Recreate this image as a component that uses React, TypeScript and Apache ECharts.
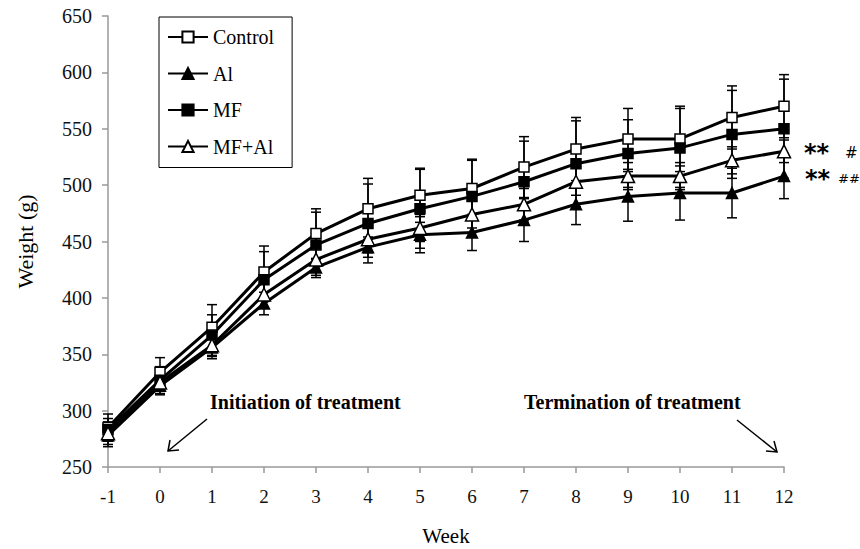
import React, { useEffect, useRef } from "react";
import * as echarts from "echarts";

const weeks = [-1, 0, 1, 2, 3, 4, 5, 6, 7, 8, 9, 10, 11, 12];
const seriesNames = ["Control", "Al", "MF", "MF+Al"];
const controlMean = [285, 334, 374, 423, 457, 479, 491, 497, 516, 532, 541, 541, 560, 570];
const alMean = [278, 322, 356, 395, 427, 445, 456, 458, 469, 483, 490, 493, 493, 508];
const mfMean = [283, 327, 367, 416, 447, 466, 479, 490, 503, 519, 528, 533, 545, 550];
const mfAlMean = [280, 325, 358, 403, 434, 452, 462, 474, 483, 503, 508, 508, 522, 530];
const controlSd = [12, 13, 20, 23, 22, 27, 24, 26, 27, 28, 27, 29, 28, 28];
const alSd = [10, 8, 10, 10, 7, 9, 16, 16, 19, 18, 22, 24, 22, 20];
const mfSd = [10, 12, 18, 25, 29, 35, 35, 32, 36, 38, 30, 35, 39, 44];
const mfAlSd = [10, 8, 10, 12, 10, 12, 12, 12, 14, 12, 12, 12, 12, 10];
const yTicks = { min: 250, max: 650, interval: 50 };
const xTicks = { min: -1, max: 12, interval: 1 };

const FONT = "'Liberation Serif', 'Times New Roman', serif";

export default function App() {
  const ref = useRef<HTMLDivElement>(null);
  useEffect(() => {
    if (!ref.current) return;
    const chart = echarts.init(ref.current, undefined, { renderer: "svg" });
    const means = [controlMean, alMean, mfMean, mfAlMean];
    const sds = [controlSd, alSd, mfSd, mfAlSd];
    const symbols = [
      { symbol: "rect", size: 10, fill: "#fff" },
      { symbol: "triangle", size: 11, fill: "#000" },
      { symbol: "rect", size: 10, fill: "#000" },
      { symbol: "triangle", size: 13, fill: "#fff" },
    ];
    const errSeries = means.map((m, i) => ({
      type: "custom",
      name: "err-" + seriesNames[i],
      z: 1,
      silent: true,
      data: weeks.map((w, k) => [w, m[k] - sds[i][k], m[k] + sds[i][k]]),
      encode: { x: 0, y: [1, 2] },
      renderItem: (params: any, api: any) => {
        const x = api.value(0);
        const lo = api.coord([x, api.value(1)]);
        const hi = api.coord([x, api.value(2)]);
        const hw = 5;
        const st = { stroke: "#000", lineWidth: 1.5 };
        return {
          type: "group",
          children: [
            { type: "line", shape: { x1: lo[0], y1: lo[1], x2: hi[0], y2: hi[1] }, style: st },
            { type: "line", shape: { x1: lo[0] - hw, y1: lo[1], x2: lo[0] + hw, y2: lo[1] }, style: st },
            { type: "line", shape: { x1: hi[0] - hw, y1: hi[1], x2: hi[0] + hw, y2: hi[1] }, style: st },
          ],
        };
      },
    }));
    const lineSeries = means.map((m, i) => ({
      type: "line",
      name: seriesNames[i],
      z: 3,
      data: weeks.map((w, k) => [w, m[k]]),
      symbol: symbols[i].symbol,
      symbolSize: symbols[i].size,
      showAllSymbol: true,
      lineStyle: { color: "#000", width: 3 },
      itemStyle: { color: symbols[i].fill, borderColor: "#000", borderWidth: 1.5 },
    }));
    const arrowStyle = { stroke: "#000", lineWidth: 1.5, fill: "none" };
    chart.setOption({
      animation: false,
      backgroundColor: "#fff",
      grid: { left: 108, right: 76, top: 16, bottom: 82, containLabel: false, outerBoundsMode: "none" },
      legend: {
        data: seriesNames,
        orient: "vertical",
        left: 159,
        top: 17,
        itemWidth: 40,
        itemHeight: 14,
        itemGap: 14.5,
        padding: [9, 18, 10, 8],
        borderColor: "#000",
        borderWidth: 1,
        backgroundColor: "#fff",
        textStyle: { fontFamily: FONT, fontSize: 20, color: "#000", lineHeight: 22 },
      },
      xAxis: {
        type: "value",
        min: xTicks.min,
        max: xTicks.max,
        interval: xTicks.interval,
        name: "Week",
        nameLocation: "middle",
        nameGap: 58,
        nameTextStyle: { fontFamily: FONT, fontSize: 21, color: "#000" },
        axisLine: { show: true, onZero: false, lineStyle: { color: "#999", width: 1.5 } },
        axisTick: { show: true, length: 6, inside: false, lineStyle: { color: "#999", width: 1.5 } },
        axisLabel: { fontFamily: FONT, fontSize: 19, color: "#111", margin: 20 },
        splitLine: { show: false },
      },
      yAxis: {
        type: "value",
        min: yTicks.min,
        max: yTicks.max,
        interval: yTicks.interval,
        name: "Weight (g)",
        nameLocation: "middle",
        nameGap: 72,
        nameRotate: 90,
        nameTextStyle: { fontFamily: FONT, fontSize: 22, color: "#000" },
        axisLine: { show: true, onZero: false, lineStyle: { color: "#999", width: 1.5 } },
        axisTick: { show: true, length: 6, inside: false, lineStyle: { color: "#999", width: 1.5 } },
        axisLabel: { fontFamily: FONT, fontSize: 20, color: "#111", margin: 16 },
        splitLine: { show: false },
      },
      graphic: [
        {
          type: "text",
          left: 210,
          top: 392,
          style: { text: "Initiation of treatment", font: "bold 20px " + FONT, fill: "#000" },
        },
        {
          type: "text",
          left: 524,
          top: 392,
          style: { text: "Termination of treatment", font: "bold 20px " + FONT, fill: "#000" },
        },
        { type: "line", shape: { x1: 207, y1: 419, x2: 168, y2: 451 }, style: arrowStyle },
        { type: "polyline", shape: { points: [[170, 440], [168, 451], [179, 450]] }, style: arrowStyle },
        { type: "line", shape: { x1: 737, y1: 420, x2: 777, y2: 452 }, style: arrowStyle },
        { type: "polyline", shape: { points: [[766, 451], [777, 452], [774, 441]] }, style: arrowStyle },
        {
          type: "text",
          left: 804,
          top: 141,
          style: { text: "**", font: "bold 24px 'DejaVu Sans', sans-serif", fill: "#000" },
        },
        {
          type: "text",
          left: 845,
          top: 145,
          style: { text: "#", font: "italic 15px 'DejaVu Sans', sans-serif", fill: "#000" },
        },
        {
          type: "text",
          left: 805,
          top: 167,
          style: { text: "**", font: "bold 24px 'DejaVu Sans', sans-serif", fill: "#000" },
        },
        {
          type: "text",
          left: 838,
          top: 172,
          style: { text: "##", font: "italic 13px 'DejaVu Sans', sans-serif", fill: "#000" },
        },
      ],
      series: [...errSeries, ...lineSeries],
    });
    return () => chart.dispose();
  }, []);
  return <div ref={ref} style={{ width: 860, height: 549, position: "absolute", left: 0, top: 0 }} />;
}
